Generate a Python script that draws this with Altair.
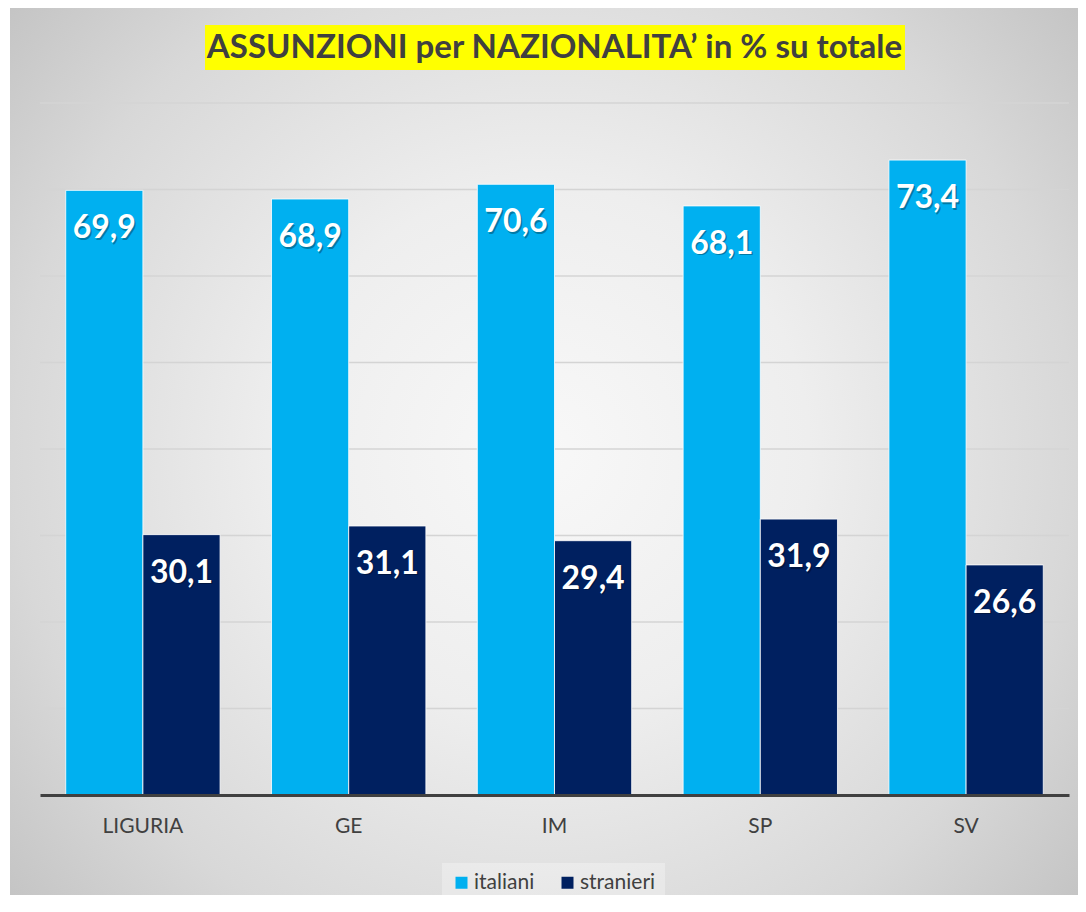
import altair as alt
import pandas as pd

# ---- data ----
regioni = ["LIGURIA", "GE", "IM", "SP", "SV"]
italiani = [69.9, 68.9, 70.6, 68.1, 73.4]
stranieri = [30.1, 31.1, 29.4, 31.9, 26.6]
serie = ["italiani", "stranieri"]
colori = ["#00B0F0", "#002060"]
griglia = [10, 20, 30, 40, 50, 60, 70, 80]
titolo = "ASSUNZIONI per NAZIONALITA\u2019 in % su totale"

rows = []
for i, r in enumerate(regioni):
    rows.append({"area": r, "serie": "italiani", "valore": italiani[i]})
    rows.append({"area": r, "serie": "stranieri", "valore": stranieri[i]})
df = pd.DataFrame(rows)

W, H = 1029, 692
FONT = "Lato"
TXT = "#404040"

# background panel with radial gradient
bg = alt.Chart(pd.DataFrame({"k": [0]})).mark_rect(
    fill={
        "gradient": "radial",
        "x1": 0.5, "y1": 0.5, "x2": 0.5, "y2": 0.5, "r1": 0, "r2": 0.71,
        "stops": [
            {"offset": 0, "color": "#f8f8f8"},
            {"offset": 0.35, "color": "#eeeeee"},
            {"offset": 0.7, "color": "#d8d8d8"},
            {"offset": 1, "color": "#bdbdbd"},
        ],
    }
).encode(x=alt.value(-30), x2=alt.value(W + 9), y=alt.value(-95), y2=alt.value(H + 100))

# title with yellow highlight
tdf = pd.DataFrame({"t": [titolo]})
title_bg = alt.Chart(tdf).mark_rect(color="#FFFF00").encode(
    x=alt.value(165), x2=alt.value(865), y=alt.value(-78), y2=alt.value(-33)
)
title_txt = alt.Chart(tdf).mark_text(
    font=FONT, fontSize=33, fontWeight="bold", color=TXT, align="center", baseline="middle"
).encode(x=alt.value(W / 2), y=alt.value(-55), text="t:N")

yscale = alt.Scale(domain=[0, 80], nice=False)

grid = alt.Chart(pd.DataFrame({"g": griglia})).mark_rule(color="#d4d4d4", strokeWidth=1.5).encode(
    y=alt.Y("g:Q", scale=yscale, axis=None)
)

base = alt.Chart(df).encode(
    x=alt.X(
        "area:N",
        sort=regioni,
        scale=alt.Scale(paddingInner=0.25, paddingOuter=0.125),
        axis=alt.Axis(
            title=None, labelAngle=0, ticks=False, domainColor=TXT, domainWidth=3,
            labelFont=FONT, labelFontSize=21, labelColor=TXT, labelPadding=20, zindex=1,
        ),
    ),
    xOffset=alt.XOffset("serie:N", sort=serie),
    y=alt.Y("valore:Q", scale=yscale, axis=None),
)

bars = base.mark_bar(stroke="#ffffff", strokeWidth=1, strokeOpacity=0.8).encode(
    color=alt.Color(
        "serie:N",
        scale=alt.Scale(domain=serie, range=colori),
        legend=alt.Legend(
            title=None, orient="none", direction="horizontal", legendX=402, legendY=760,
            symbolType="square", symbolSize=144, symbolStrokeWidth=0,
            labelFont=FONT, labelFontSize=21, labelColor=TXT, labelOffset=2,
            columnPadding=22, padding=9, fillColor="rgba(255,255,255,0.3)", zindex=1,
        ),
    )
)

lab = base.transform_calculate(lab="replace(format(datum.valore, '.1f'), '.', ',')")
shadow = lab.mark_text(
    font=FONT, fontSize=32, fontWeight="bold", color="#000000", opacity=0.3,
    baseline="middle", align="center", dx=1.5, dy=39.5,
).encode(text="lab:N")
labels = lab.mark_text(
    font=FONT, fontSize=32, fontWeight="bold", color="#ffffff",
    baseline="middle", align="center", dy=38,
).encode(text="lab:N")

chart = alt.layer(bg, grid, title_bg, title_txt, bars, shadow, labels).properties(
    width=W,
    height=H,
    autosize=alt.AutoSizeParams(type="none"),
    padding={"left": 32, "top": 95, "right": 9, "bottom": 100},
).configure_view(stroke=None).configure(background="#ffffff")

chart.save("out.html", embed_options={"renderer": "svg", "actions": False})
